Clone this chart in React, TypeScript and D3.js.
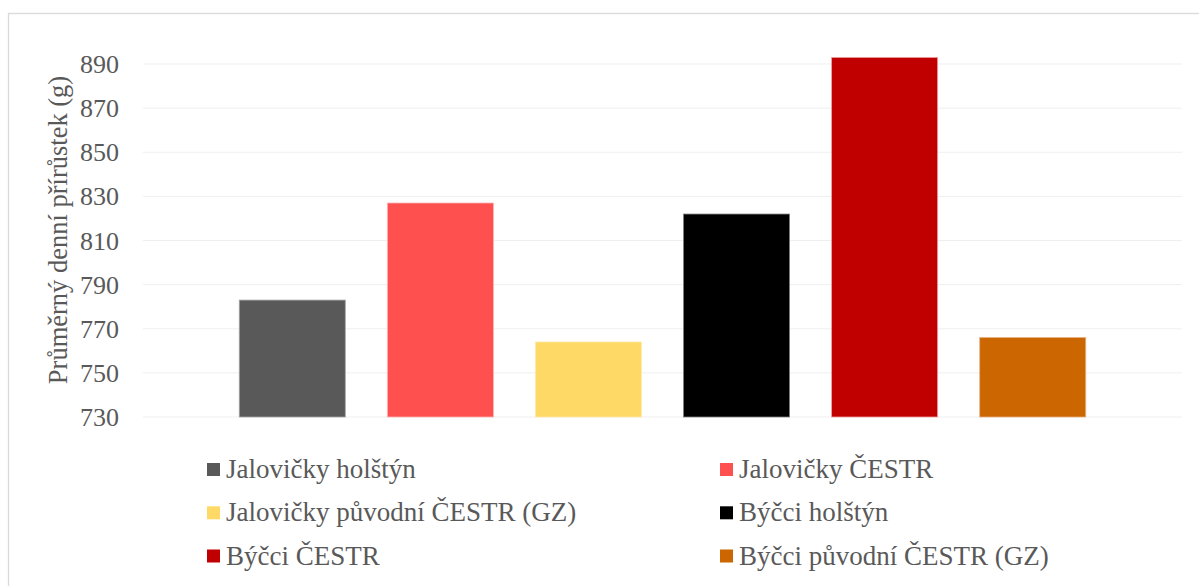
import React from "react";
import * as d3 from "d3";

const categories = [
  "Jalovičky holštýn",
  "Jalovičky ČESTR",
  "Jalovičky původní ČESTR (GZ)",
  "Býčci holštýn",
  "Býčci ČESTR",
  "Býčci původní ČESTR (GZ)",
];
const values = [783, 827, 764, 822, 893, 766];
const colors = ["#595959", "#ff5050", "#ffd966", "#000000", "#c00000", "#cc6600"];
const strokes = ["#a6a6a6", "#ffb3b3", "#ffe9a8", "#7f7f7f", "#f0a0a0", "#e8b080"];
const yTicks = [730, 750, 770, 790, 810, 830, 850, 870, 890];
const yTitle = "Průměrný denní přírůstek (g)";

const W = 1199;
const H = 586;
const plot = { left: 143, right: 1182, top: 64, bottom: 417 };
const font = "Times New Roman, Liberation Serif, Tinos, DejaVu Serif, serif";
const textColor = "#595959";
const textStyle = { fontFamily: font, fontSize: "26px" } as React.CSSProperties;
const titleStyle = { fontFamily: font, fontSize: "26.5px" } as React.CSSProperties;
const legendStyle = { fontFamily: font, fontSize: "27px" } as React.CSSProperties;

export default function App() {
  const x = d3
    .scaleBand<string>()
    .domain(categories)
    .range([plot.left, plot.right])
    .paddingInner(0.284)
    .paddingOuter(0.65);
  const y = d3.scaleLinear().domain([730, 890]).range([plot.bottom, plot.top]);

  const legendCols = [207, 720];
  const legendRows = [469.5, 512.8, 556];

  return (
    <svg
      width={W}
      height={H}
      style={{ position: "absolute", left: 0, top: 0, background: "#fff" }}
    >
      <rect x={0} y={0} width={W} height={H} fill="#ffffff" />
      <rect
        x={8.5}
        y={13.5}
        width={W + 10}
        height={H + 10}
        fill="#ffffff"
        stroke="#d9d9d9"
        strokeWidth={1.3}
      />
      {yTicks.map((t) => (
        <line
          key={"g" + t}
          x1={plot.left}
          x2={plot.right}
          y1={y(t)}
          y2={y(t)}
          stroke="#efefef"
          strokeWidth={1}
        />
      ))}
      {yTicks.map((t) => (
        <text
          key={"t" + t}
          x={119}
          y={y(t)}
          dy="0.35em"
          textAnchor="end"
          style={textStyle}
          fill={textColor}
        >
          {t}
        </text>
      ))}
      <text
        transform={`translate(67,230) rotate(-90)`}
        textAnchor="middle"
        style={titleStyle}
        fill={textColor}
      >
        {yTitle}
      </text>
      {categories.map((c, i) => (
        <rect
          key={"b" + c}
          x={x(c)}
          y={y(values[i])}
          width={x.bandwidth()}
          height={y(730) - y(values[i])}
          fill={colors[i]}
          stroke={strokes[i]}
          strokeWidth={0.8}
        />
      ))}
      {categories.map((c, i) => {
        const col = i % 2;
        const row = Math.floor(i / 2);
        const lx = legendCols[col];
        const ly = legendRows[row];
        return (
          <g key={"l" + c}>
            <rect x={lx} y={ly - 6.5} width={13} height={13} fill={colors[i]} />
            <text
              x={lx + 19}
              y={ly}
              dy="0.32em"
              style={legendStyle}
              fill={textColor}
            >
              {c}
            </text>
          </g>
        );
      })}
    </svg>
  );
}
